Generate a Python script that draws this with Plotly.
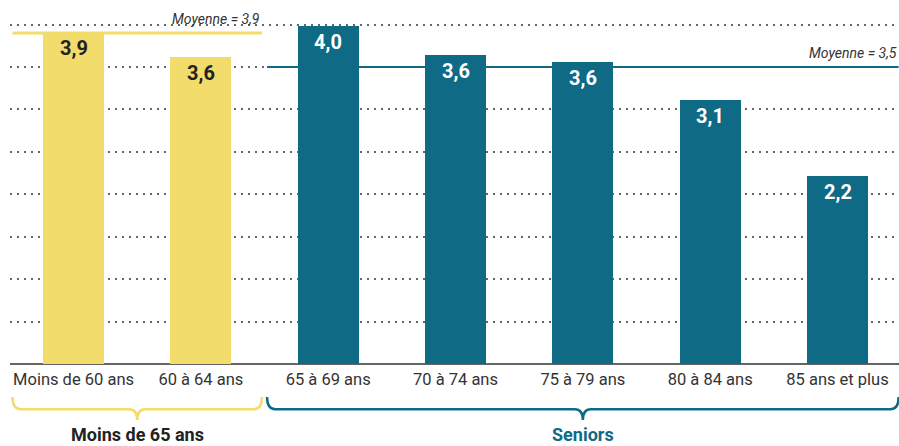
import plotly.graph_objects as go

categories = ["Moins de 60 ans", "60 à 64 ans", "65 à 69 ans", "70 à 74 ans",
              "75 à 79 ans", "80 à 84 ans", "85 ans et plus"]
values = [3.91, 3.62, 3.98, 3.64, 3.56, 3.11, 2.21]
value_labels = ["3,9", "3,6", "4,0", "3,6", "3,6", "3,1", "2,2"]
group_of_bar = [0, 0, 1, 1, 1, 1, 1]

group_names = ["Moins de 65 ans", "Seniors"]
group_means = [3.9, 3.5]
group_mean_labels = ["Moyenne = 3,9", "Moyenne = 3,5"]

YELLOW = "#F2DC6B"
TEAL = "#0E6A85"
group_colors = [YELLOW, TEAL]
group_title_colors = ["#222222", TEAL]
label_colors = ["#222222", "#FFFFFF"]

FONT = "Roboto"
x_idx = list(range(len(categories)))
x_lo, x_hi = -0.499, 6.483

fig = go.Figure()
fig.add_trace(go.Bar(
    x=x_idx, y=values, width=0.48,
    marker=dict(color=[group_colors[g] for g in group_of_bar], line=dict(width=0)),
    hoverinfo="skip", showlegend=False,
))

annotations = []
shapes = []

# bar value labels
for xi, v, lab, g in zip(x_idx, values, value_labels, group_of_bar):
    annotations.append(dict(
        x=xi, y=v, xref="x", yref="y", text=lab, showarrow=False,
        yanchor="middle", yshift=-16,
        font=dict(family=FONT, size=20, color=label_colors[g], weight=700),
    ))

# groups: mean lines, braces, titles
pad = 0.02
y_top, y_mid, y_tip = -0.0965, -0.132, -0.164
rx = 0.063
for g, name in enumerate(group_names):
    members = [i for i, gg in enumerate(group_of_bar) if gg == g]
    x0 = max(min(members) - 0.5 + pad, x_lo + pad)
    x1 = min(max(members) + 0.5 - pad, x_hi)
    xc = (min(members) + max(members)) / 2.0
    col = group_colors[g]
    # mean line
    shapes.append(dict(type="line", xref="x", yref="y", x0=x0, x1=x1,
                       y0=group_means[g], y1=group_means[g],
                       line=dict(color=col, width=3 if g == 0 else 2.2), layer="above"))
    annotations.append(dict(
        x=x1, y=group_means[g], xref="x", yref="y", text=group_mean_labels[g],
        showarrow=False, xanchor="right", yanchor="middle", yshift=14,
        font=dict(family=FONT, size=14, color="#333333", style="italic"),
    ))
    # brace
    path = (f"M {x0},{y_top} Q {x0},{y_mid} {x0 + rx},{y_mid} "
            f"L {xc - rx},{y_mid} Q {xc},{y_mid} {xc},{y_tip} "
            f"Q {xc},{y_mid} {xc + rx},{y_mid} "
            f"L {x1 - rx},{y_mid} Q {x1},{y_mid} {x1},{y_top}")
    shapes.append(dict(type="path", xref="x", yref="paper", path=path,
                       line=dict(color=col, width=2.5)))
    annotations.append(dict(
        x=xc, y=-0.205, xref="x", yref="paper", text=name, showarrow=False,
        yanchor="middle",
        font=dict(family=FONT, size=18, color=group_title_colors[g], weight=700),
    ))

fig.update_layout(
    width=899, height=446,
    margin=dict(l=10, r=0, t=22, b=82),
    paper_bgcolor="white", plot_bgcolor="white",
    bargap=0,
    showlegend=False,
    hovermode=False,
    xaxis=dict(
        range=[x_lo, x_hi], tickvals=x_idx, ticktext=categories,
        showgrid=False, zeroline=False, showline=False, ticks="",
        ticklabelstandoff=3,
        tickfont=dict(family=FONT, size=16.5, color="#333333"),
        fixedrange=True,
    ),
    yaxis=dict(
        range=[0, 4.03], dtick=0.5, tick0=0, showticklabels=False,
        showgrid=True, gridcolor="#666666", gridwidth=1.5, griddash="1.5px,5.5px",
        zeroline=True, zerolinecolor="#666666", zerolinewidth=1.5,
        showline=False, ticks="", fixedrange=True,
    ),
    annotations=annotations,
    shapes=shapes,
)

fig.write_html("out.html", config={"displayModeBar": False})
